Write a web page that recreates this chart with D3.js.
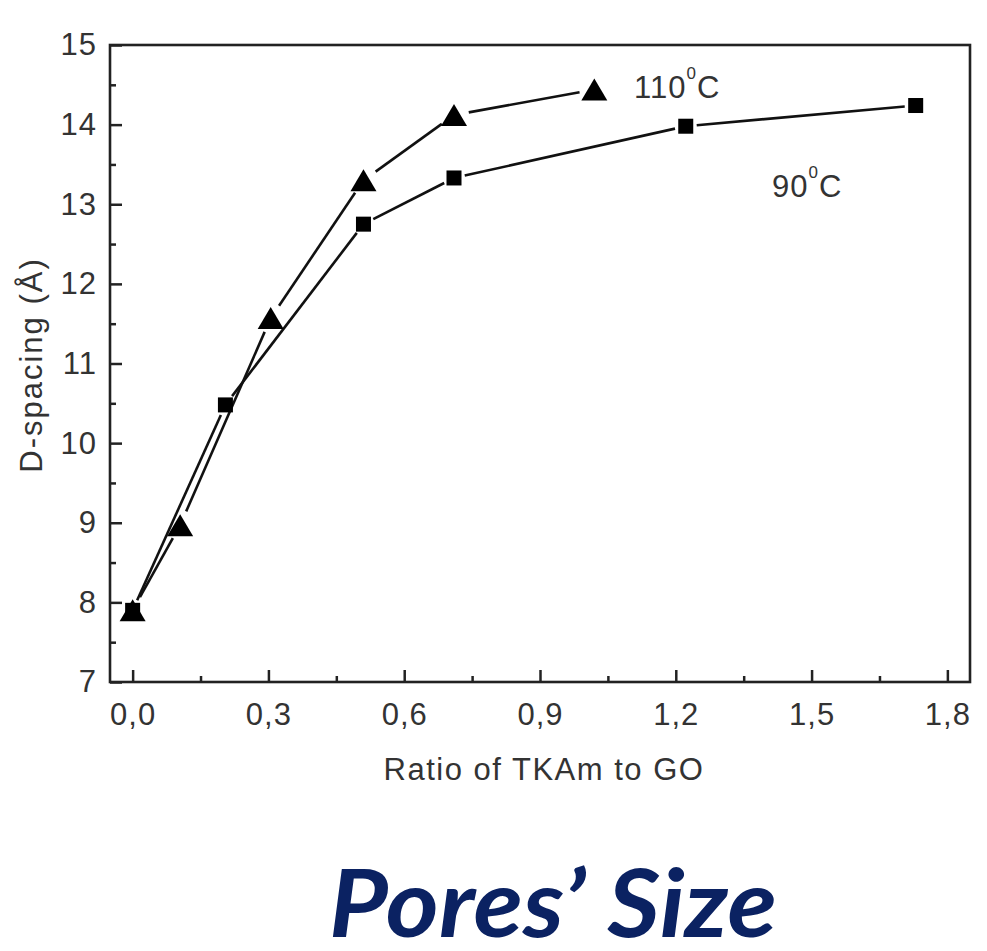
<!DOCTYPE html>
<html>
<head>
<meta charset="utf-8">
<script src="https://cdn.jsdelivr.net/npm/d3@7"></script>
<style>
  html, body { margin: 0; padding: 0; background: #fff; }
  svg { display: block; }
  .tick text { font-family: "Liberation Sans", Arial, sans-serif; font-size: 31px; fill: #333; letter-spacing: 1px; }
</style>
</head>
<body>
<svg id="chart" width="987" height="951"></svg>
<script>
// D-spacing versus TKAm:GO ratio at two reaction temperatures
const ratio110 = [0, 0.105, 0.305, 0.51, 0.71, 1.02];
const spacing110 = [7.9, 8.97, 11.57, 13.3, 14.12, 14.44];
const ratio90 = [0, 0.205, 0.51, 0.71, 1.222, 1.73];
const spacing90 = [7.9, 10.48, 12.75, 13.33, 13.98, 14.24];

const xTicks = [0, 0.3, 0.6, 0.9, 1.2, 1.5, 1.8];
const xMinorTicks = [0.15, 0.45, 0.75, 1.05, 1.35, 1.65];
const yTicks = [7, 8, 9, 10, 11, 12, 13, 14, 15];
const yMinorTicks = [7.5, 8.5, 9.5, 10.5, 11.5, 12.5, 13.5, 14.5];

const xTitle = "Ratio of TKAm to GO";
const yTitle = "D-spacing (Å)";
const heading = "Pores\u2019 Size";

const svg = d3.select("#chart");
const x = d3.scaleLinear().domain([-0.05, 1.85]).range([110, 970]);
const y = d3.scaleLinear().domain([7, 15]).range([682, 45]);

const fmt = d => d.toFixed(1).replace(".", ",");
const axisColor = "#222";

// major and minor ticks, pointing into the plot
const gx = svg.append("g").attr("transform", `translate(0,${y.range()[0]})`)
  .call(d3.axisBottom(x).tickValues(xTicks).tickFormat(fmt).tickSize(-12).tickPadding(21));
const gxm = svg.append("g").attr("transform", `translate(0,${y.range()[0]})`)
  .call(d3.axisBottom(x).tickValues(xMinorTicks).tickFormat("").tickSize(-6));
const gy = svg.append("g").attr("transform", `translate(${x.range()[0]},0)`)
  .call(d3.axisLeft(y).tickValues(yTicks).tickFormat(d3.format("d")).tickSize(-12).tickPadding(13));
const gym = svg.append("g").attr("transform", `translate(${x.range()[0]},0)`)
  .call(d3.axisLeft(y).tickValues(yMinorTicks).tickFormat("").tickSize(-6));

[gx, gxm, gy, gym].forEach(g => {
  g.select(".domain").remove();
  g.selectAll(".tick line").attr("stroke", axisColor).attr("stroke-width", 2.5);
});

// plot frame
svg.append("rect")
  .attr("x", x.range()[0]).attr("y", y.range()[1])
  .attr("width", x.range()[1] - x.range()[0])
  .attr("height", y.range()[0] - y.range()[1])
  .attr("fill", "none").attr("stroke", axisColor).attr("stroke-width", 2.6);

// connecting segments, broken short of each symbol
function drawSegments(xs, ys, gap) {
  const pts = xs.map((v, i) => [x(v), y(ys[i])]);
  for (let i = 0; i < pts.length - 1; i++) {
    const [x0, y0] = pts[i], [x1, y1] = pts[i + 1];
    const len = Math.hypot(x1 - x0, y1 - y0);
    const ux = (x1 - x0) / len, uy = (y1 - y0) / len;
    svg.append("line")
      .attr("x1", x0 + ux * gap).attr("y1", y0 + uy * gap)
      .attr("x2", x1 - ux * gap).attr("y2", y1 - uy * gap)
      .attr("stroke", "#111").attr("stroke-width", 2.6);
  }
}
drawSegments(ratio90, spacing90, 11);
drawSegments(ratio110, spacing110, 15);

// 90 °C: squares
svg.append("g").selectAll("rect").data(ratio90.map((v, i) => [v, spacing90[i]])).join("rect")
  .attr("x", d => x(d[0]) - 7.5).attr("y", d => y(d[1]) - 7.5)
  .attr("width", 15).attr("height", 15).attr("fill", "#000");

// 110 °C: triangles
svg.append("g").selectAll("path").data(ratio110.map((v, i) => [v, spacing110[i]])).join("path")
  .attr("d", d => {
    const cx = x(d[0]), cy = y(d[1]);
    return `M${cx},${cy - 11}L${cx + 13},${cy + 11}L${cx - 13},${cy + 11}Z`;
  })
  .attr("fill", "#000");

// series labels
function tempLabel(tx, ty, num) {
  const t = svg.append("text").attr("x", tx).attr("y", ty)
    .attr("font-family", "Liberation Sans, Arial, sans-serif")
    .attr("font-size", 31).attr("fill", "#333").attr("letter-spacing", 1);
  t.append("tspan").text(num);
  t.append("tspan").attr("font-size", 17).attr("dy", -19).text("0");
  t.append("tspan").attr("dy", 19).text("C");
}
tempLabel(634, 98, "110");
tempLabel(772, 197, "90");

// axis titles
svg.append("text")
  .attr("x", 544).attr("y", 780).attr("text-anchor", "middle")
  .attr("font-family", "Liberation Sans, Arial, sans-serif")
  .attr("font-size", 31).attr("letter-spacing", 1.5).attr("fill", "#333")
  .text(xTitle);
svg.append("text")
  .attr("transform", "translate(42,365) rotate(-90)").attr("text-anchor", "middle")
  .attr("font-family", "Liberation Sans, Arial, sans-serif")
  .attr("font-size", 31).attr("letter-spacing", 2).attr("fill", "#333")
  .text(yTitle);

// heading below the chart
svg.append("text")
  .attr("x", 329).attr("y", 937)
  .attr("font-family", "Lato, 'Open Sans', sans-serif")
  .attr("font-weight", "bold").attr("font-style", "italic")
  .attr("font-size", 94).attr("fill", "#0b2262")
  .attr("textLength", 448).attr("lengthAdjust", "spacingAndGlyphs")
  .text(heading);
</script>
</body>
</html>
